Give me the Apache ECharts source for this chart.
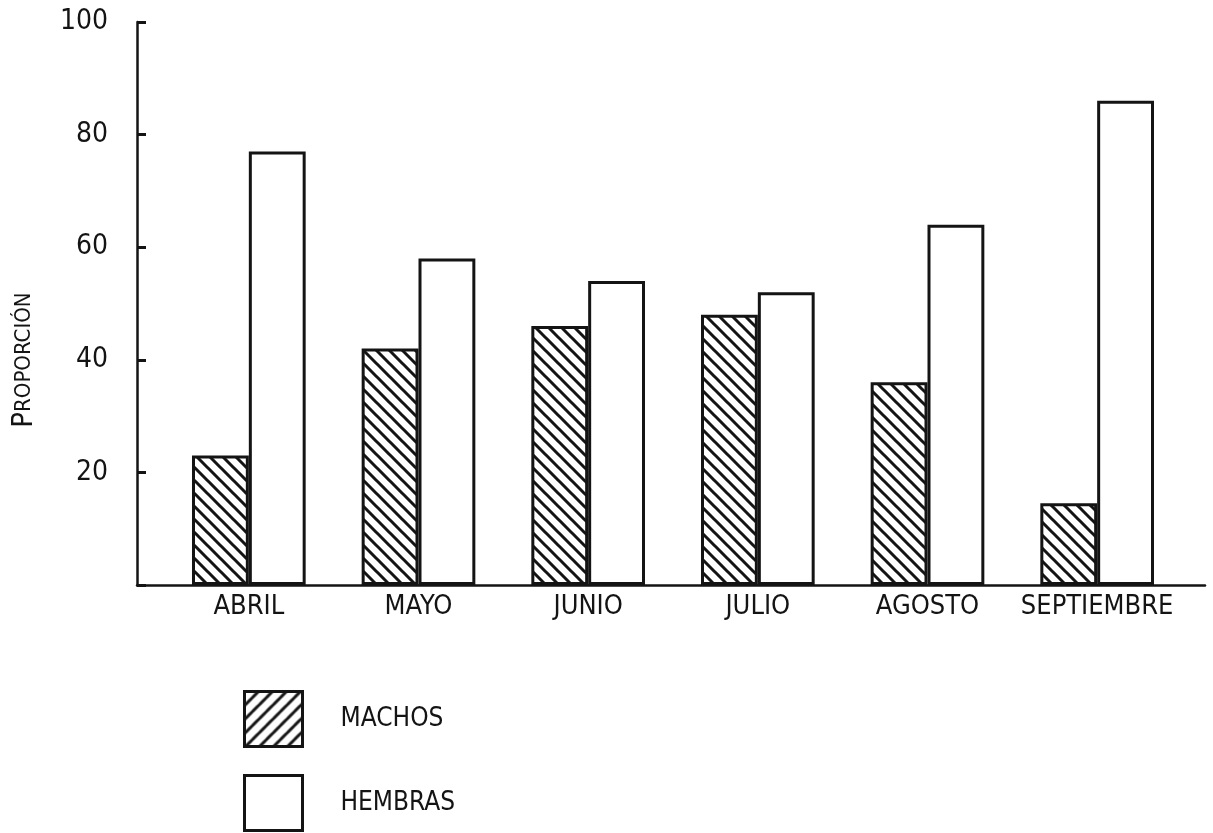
<!DOCTYPE html>
<html>
<head>
<meta charset="utf-8">
<script src="https://cdn.jsdelivr.net/npm/echarts@6/dist/echarts.min.js"></script>
<style>
html,body{margin:0;padding:0;background:#fff;}
#chart{width:1213px;height:833px;}
</style>
</head>
<body>
<div id="chart"></div>
<script>
const categories = ['ABRIL', 'MAYO', 'JUNIO', 'JULIO', 'AGOSTO', 'SEPTIEMBRE'];
const machos = [23, 42, 46, 48, 36, 14.5];
const hembras = [77, 58, 54, 52, 64, 86];
const seriesNames = ['MACHOS', 'HEMBRAS'];
const yAxisName = 'PROPORCIÓN';

const FONT = "'Liberation Sans Narrow', 'DejaVu Sans Condensed', 'Roboto', sans-serif";
const INK = '#141414';

function hatch(dir, s) {
  const c = document.createElement('canvas');
  c.width = s; c.height = s;
  const g = c.getContext('2d');
  g.fillStyle = '#fff';
  g.fillRect(0, 0, s, s);
  g.strokeStyle = INK;
  g.lineWidth = 3;
  g.beginPath();
  for (let k = -1; k <= 1; k++) {
    if (dir === '\\') {
      g.moveTo(-2, k * s - 2); g.lineTo(s + 2, s + k * s + 2);
    } else {
      g.moveTo(-2, s - k * s + 2); g.lineTo(s + 2, -k * s - 2);
    }
  }
  g.stroke();
  return { image: c, repeat: 'repeat' };
}

const legendBase = {
  orient: 'vertical', left: 243, padding: 0,
  itemWidth: 58, itemHeight: 55,
  icon: 'rect', selectedMode: false,
  textStyle: { fontFamily: FONT, fontSize: 26, color: INK, padding: [0, 0, 0, 33] }
};

const chart = echarts.init(document.getElementById('chart'), null, { renderer: 'canvas' });
const option = {
  animation: false,
  backgroundColor: '#fff',
  textStyle: { fontFamily: FONT, color: INK },
  grid: [
    { left: 137, right: 8, top: 22, bottom: 248 },
    { left: 164, width: 1018, top: 22, bottom: 248 }
  ],
  xAxis: [
    { gridIndex: 0, type: 'value', min: 0, max: 1,
      axisLine: { show: true, lineStyle: { color: INK, width: 2.5 } },
      axisTick: { show: false }, axisLabel: { show: false }, splitLine: { show: false } },
    { gridIndex: 1, type: 'category', data: categories,
      axisLine: { show: false }, axisTick: { show: false }, splitLine: { show: false },
      axisLabel: { interval: 0, margin: 8, fontFamily: FONT, fontSize: 27, color: INK } }
  ],
  yAxis: [
    { gridIndex: 0, type: 'value', min: 0, max: 100, interval: 20,
      axisLine: { show: true, lineStyle: { color: INK, width: 2.5 } },
      axisTick: { show: true, inside: true, length: 9, lineStyle: { color: INK, width: 3 } },
      splitLine: { show: false },
      axisLabel: { margin: 29, fontFamily: FONT, fontSize: 28, color: INK,
        formatter: v => v === 0 ? '' : String(v) } },
    { gridIndex: 1, type: 'value', min: 0, max: 100, show: false, splitLine: { show: false } }
  ],
  legend: [
    Object.assign({}, legendBase, { top: 690,
      data: [{ name: seriesNames[0], itemStyle: { color: hatch('/', 14), borderColor: INK, borderWidth: 3 } }] }),
    Object.assign({}, legendBase, { top: 774,
      textStyle: Object.assign({}, legendBase.textStyle, { padding: [12, 0, 0, 33] }),
      data: [{ name: seriesNames[1], itemStyle: { color: '#fff', borderColor: INK, borderWidth: 3 } }] })
  ],
  graphic: [
    { type: 'text', x: 24, y: 360, rotation: Math.PI / 2,
      style: { text: '{a|' + yAxisName.charAt(0) + '}{b|' + yAxisName.slice(1) + '}',
        align: 'center', verticalAlign: 'middle', fill: INK,
        rich: { a: { fontFamily: FONT, fontSize: 29, fill: INK, color: INK },
                b: { fontFamily: FONT, fontSize: 22, fill: INK, color: INK } } } }
  ],
  series: [
    { name: seriesNames[0], type: 'bar', xAxisIndex: 1, yAxisIndex: 1, data: machos,
      barGap: '0%', barCategoryGap: '33%',
      itemStyle: { color: hatch('\\', 13), borderColor: INK, borderWidth: 3 } },
    { name: seriesNames[1], type: 'bar', xAxisIndex: 1, yAxisIndex: 1, data: hembras,
      barGap: '0%', barCategoryGap: '33%',
      itemStyle: { color: '#fff', borderColor: INK, borderWidth: 3 } }
  ]
};
chart.setOption(option);
</script>
</body>
</html>
